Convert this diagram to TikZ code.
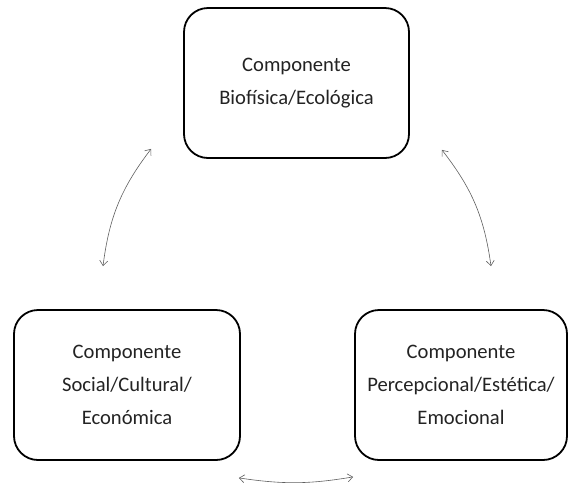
\documentclass[tikz,border=0pt]{standalone}
\usepackage{fontspec}
\setmainfont{Carlito}
\usepackage{tikz}
\usetikzlibrary{positioning, calc, arrows.meta}
\definecolor{arrowgray}{RGB}{95,95,95}
\definecolor{textgray}{RGB}{35,35,35}

\begin{document}
\begin{tikzpicture}[x=1pt, y=-1pt,
        compbox/.style={draw=black, line width=1.8pt, rounded corners=24pt, align=center, inner sep=0pt, minimum height=150pt, text=textgray, font=\fontsize{20.6}{33}\selectfont},
        linkarrow/.style={draw=arrowgray, line width=0.6pt, {Straight Barb[length=5pt,width=8pt]}-{Straight Barb[length=5pt,width=8pt]}}]
        \useasboundingbox (0,0) rectangle (569,483);
        \node[compbox, minimum width=225pt] (bio) at (296.5,83) {Componente\\Biofísica/Ecológica};
        \node[compbox, minimum width=226pt] (social) at (127,385) {Componente\\Social/Cultural/\\Económica};
        \node[compbox, minimum width=212pt] (percep) at (461,385) {Componente\\Percepcional/Estética/\\Emocional};
        \coordinate (bioL) at ($(bio.south west)+(-32,-10)$);
        \coordinate (bioR) at ($(bio.south east)+(32,-9)$);
        \coordinate (socialT) at ($(social.north)+(-24,-43)$);
        \coordinate (socialB) at ($(social.south east)+(-2,17)$);
        \coordinate (percepT) at ($(percep.north)+(30,-43)$);
        \coordinate (percepB) at ($(percep.south west)+(-1,16)$);
        \draw[linkarrow] (bioL) to[bend right=15] (socialT);
        \draw[linkarrow] (bioR) to[bend left=15] (percepT);
        \draw[linkarrow] (socialB) to[bend right=9] (percepB);
    \end{tikzpicture}
\end{document}
